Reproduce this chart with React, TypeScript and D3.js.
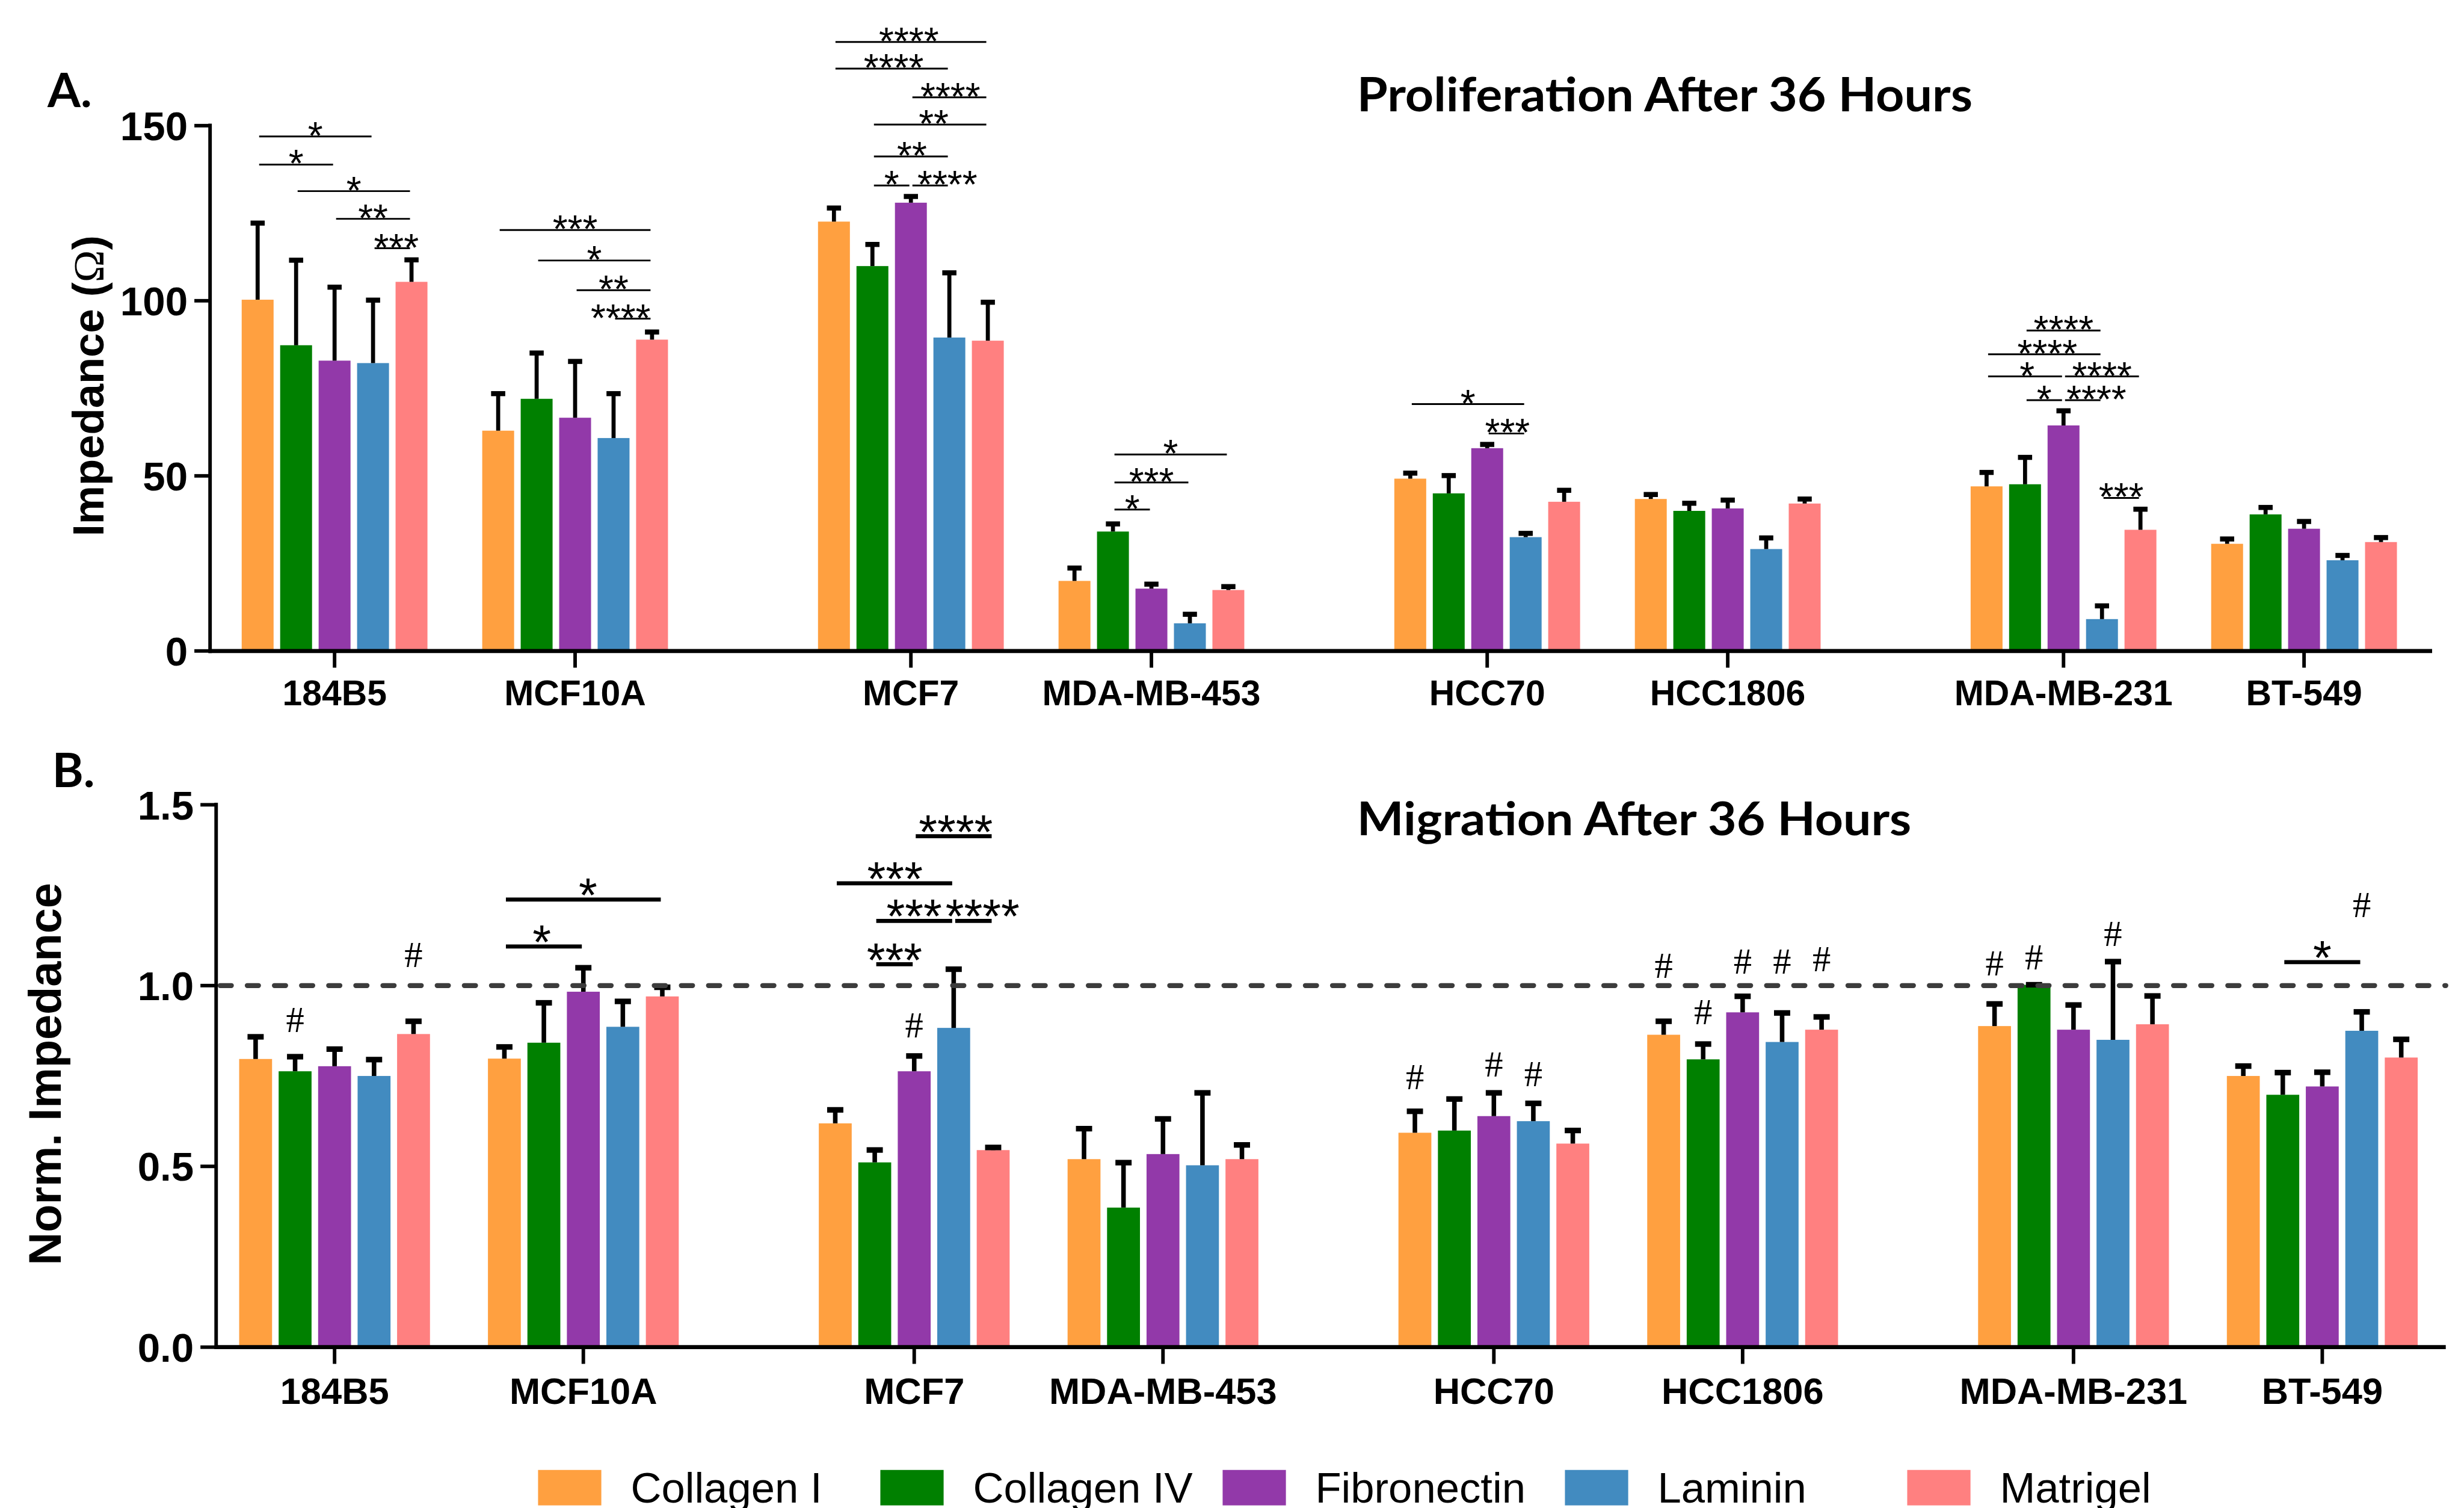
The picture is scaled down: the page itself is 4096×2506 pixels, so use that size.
import React from 'react';
import * as d3 from 'd3';

const cellLines = ['184B5', 'MCF10A', 'MCF7', 'MDA-MB-453', 'HCC70', 'HCC1806', 'MDA-MB-231', 'BT-549'];
const coatings = ['Collagen I', 'Collagen IV', 'Fibronectin', 'Laminin', 'Matrigel'];
const coatingColors = ['#FFA040', '#008000', '#9239A9', '#428BC0', '#FF8080'];

// A. proliferation, impedance (ohm) after 36 h
const prolifCollagenI = [100.3, 62.9, 122.6, 20.0, 49.2, 43.4, 47.0, 30.6];
const prolifCollagenIV = [87.3, 72.0, 109.9, 34.1, 45.0, 40.0, 47.6, 39.0];
const prolifFibronectin = [82.9, 66.6, 128.0, 17.8, 57.9, 40.7, 64.4, 34.9];
const prolifLaminin = [82.2, 60.8, 89.5, 7.9, 32.5, 29.1, 9.1, 25.9];
const prolifMatrigel = [105.4, 88.9, 88.6, 17.4, 42.6, 42.1, 34.6, 31.1];

const prolifErrCollagenI = [22.6, 11.3, 4.6, 4.4, 2.3, 2.0, 4.7, 2.1];
const prolifErrCollagenIV = [25.0, 13.8, 6.9, 2.9, 5.8, 2.9, 8.4, 2.7];
const prolifErrFibronectin = [21.7, 16.8, 2.5, 2.0, 1.8, 3.1, 4.9, 2.8];
const prolifErrLaminin = [18.7, 13.4, 19.2, 3.3, 1.8, 3.9, 4.5, 2.1];
const prolifErrMatrigel = [7.0, 2.9, 11.7, 1.7, 4.0, 2.0, 6.6, 2.0];

// B. migration, normalised impedance after 36 h
const migCollagenI = [0.797, 0.798, 0.619, 0.520, 0.593, 0.864, 0.888, 0.750];
const migCollagenIV = [0.763, 0.842, 0.511, 0.386, 0.599, 0.796, 1.002, 0.698];
const migFibronectin = [0.777, 0.983, 0.763, 0.534, 0.639, 0.926, 0.878, 0.721];
const migLaminin = [0.750, 0.886, 0.883, 0.503, 0.625, 0.844, 0.850, 0.875];
const migMatrigel = [0.866, 0.970, 0.545, 0.520, 0.563, 0.878, 0.893, 0.801];

const migErrCollagenI = [0.069, 0.040, 0.045, 0.092, 0.067, 0.045, 0.069, 0.035];
const migErrCollagenIV = [0.048, 0.118, 0.042, 0.132, 0.095, 0.050, 0.008, 0.069];
const migErrFibronectin = [0.055, 0.074, 0.050, 0.105, 0.072, 0.052, 0.076, 0.047];
const migErrLaminin = [0.053, 0.078, 0.170, 0.208, 0.057, 0.088, 0.224, 0.060];
const migErrMatrigel = [0.043, 0.033, 0.015, 0.047, 0.044, 0.043, 0.086, 0.058];

// significance bars: [cell line, from coating, to coating, height, label, label shift]
type Sig = [number, number, number, number, string, number];
const prolifSig: Sig[] = [
  [0, 0, 3, 146.9, '*', 0], [0, 0, 2, 138.9, '*', 0], [0, 1, 4, 131.3, '*', 0],
  [0, 2, 4, 123.4, '**', 0], [0, 3, 4, 115.0, '***', 8],
  [1, 0, 4, 120.2, '***', 0], [1, 1, 4, 111.5, '*', 0], [1, 2, 4, 103.0, '**', 0], [1, 3, 4, 94.9, '****', -24],
  [2, 0, 4, 173.9, '****', -4], [2, 0, 3, 166.3, '****', 4], [2, 2, 4, 158.1, '****', 2],
  [2, 1, 4, 150.3, '**', 7], [2, 1, 3, 141.2, '**', 2], [2, 1, 2, 132.9, '*', 0], [2, 2, 3, 132.9, '****', 34],
  [3, 1, 4, 56.1, '*', 0], [3, 1, 3, 48.1, '***', 0], [3, 1, 2, 40.4, '*', 0],
  [4, 0, 3, 70.5, '*', 0], [4, 2, 3, 62.1, '***', 2],
  [6, 1, 3, 91.5, '****', 0], [6, 0, 3, 84.7, '****', 6], [6, 0, 2, 78.4, '*', 4], [6, 2, 4, 78.4, '****', 0],
  [6, 1, 2, 71.6, '*', 0], [6, 2, 3, 71.6, '****', 27], [6, 3, 4, 43.7, '***', 0],
];
const migSig: Sig[] = [
  [1, 0, 4, 1.238, '*', 9], [1, 0, 2, 1.108, '*', -4],
  [2, 2, 4, 1.413, '****', 4], [2, 0, 3, 1.283, '***', 1], [2, 1, 3, 1.179, '***', 0],
  [2, 3, 4, 1.179, '****', 18], [2, 1, 2, 1.059, '***', 0],
  [7, 1, 3, 1.065, '*', 0],
];
// "#" marks: [cell line, coating, height]
const migHash: [number, number, number][] = [
  [0, 1, 0.871], [0, 4, 1.051], [2, 2, 0.857],
  [4, 0, 0.714], [4, 2, 0.749], [4, 3, 0.722],
  [5, 0, 1.022], [5, 1, 0.894], [5, 2, 1.033], [5, 3, 1.033], [5, 4, 1.039],
  [6, 0, 1.028], [6, 1, 1.045], [6, 3, 1.109], [7, 3, 1.190],
];

const sans = '"Liberation Sans", Arial, sans-serif';
const heading = 'Lato, "Open Sans", sans-serif';

const slot = (i: number, gap: number) => i + Math.floor(i / 2) * gap;

type PanelSpec = {
  means: number[][];
  errs: number[][];
  sig: Sig[];
  hash: [number, number, number][];
  yMax: number;
  yTicks: number[];
  fmt: (v: number) => string;
  refLine?: number;
  top: number; bottom: number; left: number; right: number;
  firstX: number; lastX: number; gap: number;
  pitch: number; barW: number;
  errW: number; capW: number; capH: number;
  catFont: number; catDy: number;
  starFont: number; starDy: number; sigStroke: number;
  yLabel: React.ReactNode; yLabelX: number; yLabelY: number; yLabelFont: number;
  title: string; titleY: number; titleLen: number; titleFont: number;
  letter: string; letterX: number; letterY: number;
};

const BarPanel = ({ p }: { p: PanelSpec }) => {
  const last = cellLines.length - 1;
  const x = d3.scaleLinear().domain([0, slot(last, p.gap)]).range([p.firstX, p.lastX]);
  const cx = (i: number) => x(slot(i, p.gap));
  const pad = 1 - p.barW / p.pitch;
  const inner = d3.scaleBand<string>()
    .domain(coatings)
    .range([-2.5 * p.pitch, 2.5 * p.pitch])
    .paddingInner(pad)
    .paddingOuter(pad / 2);
  const bw = inner.bandwidth();
  const mid = (i: number, s: number) => cx(i) + (inner(coatings[s]) as number) + bw / 2;
  const y = d3.scaleLinear().domain([0, p.yMax]).range([p.bottom, p.top]);

  return (
    <g>
      <text x={p.letterX} y={p.letterY} fontFamily={heading} fontWeight={700} fontSize={94}>{p.letter}</text>
      <text x={2681} y={p.titleY} fontFamily={heading} fontWeight={700} fontSize={p.titleFont}
        textLength={p.titleLen} lengthAdjust="spacingAndGlyphs">{p.title}</text>

      {coatings.map((c, s) => (
        <g key={c}>
          {cellLines.map((cl, i) => (
            <rect key={cl} x={cx(i) + (inner(c) as number)} y={y(p.means[s][i])} width={bw}
              height={p.bottom - y(p.means[s][i])} fill={coatingColors[s]} />
          ))}
        </g>
      ))}

      {coatings.map((c, s) => (
        <g key={c} stroke="#000">
          {cellLines.map((cl, i) => {
            const capY = y(p.means[s][i] + p.errs[s][i]) + p.capH / 2;
            return (
              <g key={cl}>
                <line x1={mid(i, s)} x2={mid(i, s)} y1={y(p.means[s][i])} y2={capY} strokeWidth={p.errW} />
                <line x1={mid(i, s) - p.capW / 2} x2={mid(i, s) + p.capW / 2} y1={capY} y2={capY}
                  strokeWidth={p.capH} />
              </g>
            );
          })}
        </g>
      ))}

      {p.refLine !== undefined && (
        <line x1={p.left + 8} x2={p.right} y1={y(p.refLine)} y2={y(p.refLine)} stroke="#3c3c3c"
          strokeWidth={10} strokeDasharray="22 31.6" strokeLinecap="round" />
      )}

      {/* axes */}
      <line x1={p.left} x2={p.left} y1={p.top - 4} y2={p.bottom + 4} stroke="#000" strokeWidth={7} />
      <line x1={p.left - 3} x2={p.right} y1={p.bottom} y2={p.bottom} stroke="#000" strokeWidth={8} />
      {p.yTicks.map((t) => (
        <g key={t}>
          <line x1={p.left - 31} x2={p.left} y1={y(t)} y2={y(t)} stroke="#000" strokeWidth={7} />
          <text x={p.left - 44} y={y(t)} dy="0.36em" textAnchor="end" fontFamily={sans} fontWeight={700}
            fontSize={80}>{p.fmt(t)}</text>
        </g>
      ))}
      {cellLines.map((cl, i) => (
        <g key={cl}>
          <line x1={cx(i)} x2={cx(i)} y1={p.bottom} y2={p.bottom + 33} stroke="#000" strokeWidth={7} />
          <text x={cx(i)} y={p.bottom + p.catDy} textAnchor="middle" fontFamily={sans} fontWeight={700}
            fontSize={p.catFont}>{cl}</text>
        </g>
      ))}

      <text transform={`translate(${p.yLabelX},${p.yLabelY}) rotate(-90)`} textAnchor="middle"
        fontFamily={sans} fontWeight={700} fontSize={p.yLabelFont}>{p.yLabel}</text>

      {/* significance */}
      {p.sig.map(([i, a, b, v, label, shift], k) => {
        const x1 = mid(i, a) + 3;
        const x2 = mid(i, b) - 3;
        const ly = y(v);
        return (
          <g key={k}>
            <line x1={x1} x2={x2} y1={ly} y2={ly} stroke="#000" strokeWidth={p.sigStroke} />
            <text x={(x1 + x2) / 2 + shift} y={ly + p.starDy} textAnchor="middle" fontFamily={sans}
              fontSize={p.starFont}>{label}</text>
          </g>
        );
      })}
      {p.hash.map(([i, s, v], k) => (
        <text key={k} x={mid(i, s)} y={y(v)} textAnchor="middle" fontFamily='"Liberation Serif", serif'
          fontSize={72}>#</text>
      ))}
    </g>
  );
};

const panelA: PanelSpec = {
  means: [prolifCollagenI, prolifCollagenIV, prolifFibronectin, prolifLaminin, prolifMatrigel],
  errs: [prolifErrCollagenI, prolifErrCollagenIV, prolifErrFibronectin, prolifErrLaminin, prolifErrMatrigel],
  sig: prolifSig,
  hash: [],
  yMax: 150,
  yTicks: [0, 50, 100, 150],
  fmt: d3.format('d'),
  top: 248, bottom: 1285.5, left: 415, right: 4805,
  firstX: 661, lastX: 4552, gap: 0.396,
  pitch: 76, barW: 63,
  errW: 8, capW: 28, capH: 10,
  catFont: 70, catDy: 107,
  starFont: 76, starDy: 25, sigStroke: 3.5,
  yLabel: <>Impedance (<tspan fontFamily='"Liberation Serif", serif' fontWeight={400}>Ω</tspan>)</>,
  yLabelX: 204, yLabelY: 762, yLabelFont: 86,
  title: 'Proliferation After 36 Hours', titleY: 220, titleLen: 1216, titleFont: 94,
  letter: 'A.', letterX: 94, letterY: 211,
};

const panelB: PanelSpec = {
  means: [migCollagenI, migCollagenIV, migFibronectin, migLaminin, migMatrigel],
  errs: [migErrCollagenI, migErrCollagenIV, migErrFibronectin, migErrLaminin, migErrMatrigel],
  sig: migSig,
  hash: migHash,
  yMax: 1.5,
  yTicks: [0, 0.5, 1, 1.5],
  fmt: d3.format('.1f'),
  refLine: 1,
  top: 1589.3, bottom: 2660.5, left: 427, right: 4832,
  firstX: 661, lastX: 4588, gap: 0.33,
  pitch: 78, barW: 65,
  errW: 9, capW: 32, capH: 11,
  catFont: 73, catDy: 112,
  starFont: 94, starDy: 24, sigStroke: 8,
  yLabel: 'Norm. Impedance',
  yLabelX: 120, yLabelY: 2121, yLabelFont: 90,
  title: 'Migration After 36 Hours', titleY: 1649, titleLen: 1095, titleFont: 90,
  letter: 'B.', letterX: 103, letterY: 1554,
};

const Legend = () => {
  const lx = d3.scalePoint<string>().domain(coatings).range([1063, 3768]);
  return (
    <g>
      {coatings.map((c, s) => (
        <g key={c}>
          <rect x={lx(c)} y={2903} width={125} height={70} fill={coatingColors[s]} />
          <text x={(lx(c) as number) + 183} y={2968} fontFamily={sans} fontSize={84}>{c}</text>
        </g>
      ))}
    </g>
  );
};

const App = () => (
  <svg width={4096} height={2506} viewBox="0 0 4868 2978"
    style={{ position: 'absolute', left: 0, top: 0, background: '#fff' }}>
    <rect width={4868} height={2978} fill="#fff" />
    <BarPanel p={panelA} />
    <BarPanel p={panelB} />
    <Legend />
  </svg>
);

export default App;
